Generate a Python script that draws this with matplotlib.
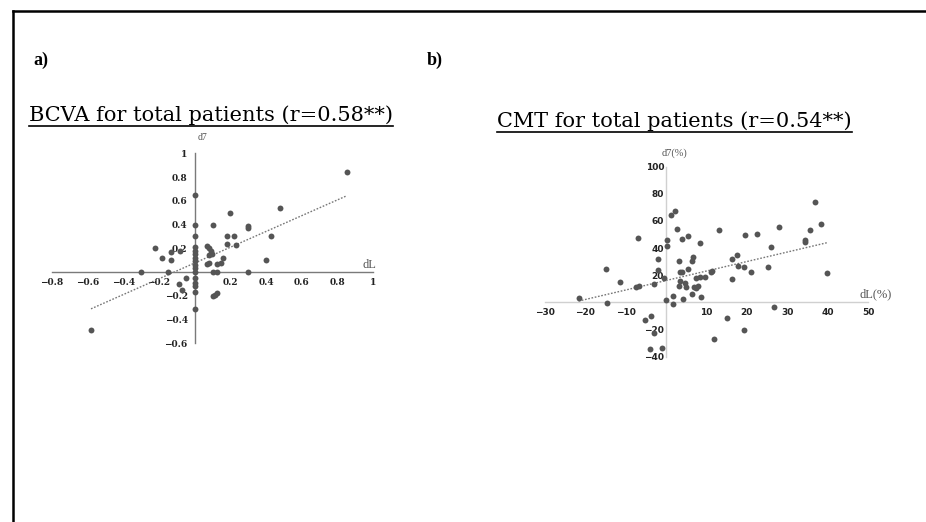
import numpy as np
import matplotlib
matplotlib.use("Agg")
import matplotlib.pyplot as plt
from matplotlib.lines import Line2D

# ---------------- data ----------------
bcva_dL = [0.85, -0.58, 0.0, 0.48, 0.20, 0.10, 0.0, 0.30, 0.30, 0.43, 0.18, 0.22, 0.0,
           0.18, 0.23, 0.16, 0.40, 0.15, 0.125, 0.07, 0.08, 0.07, 0.08, 0.09, 0.095, 0.08,
           0.0, 0.0, 0.0, 0.0, 0.0, 0.0, 0.0, -0.22, -0.18, -0.13, -0.13, -0.08,
           -0.30, -0.15, 0.0, 0.10, 0.125, 0.30, -0.05, -0.09, -0.07,
           0.0, 0.0, 0.0, 0.0, 0.0, 0.10, 0.115, 0.125]
bcva_d7 = [0.84, -0.49, 0.65, 0.54, 0.50, 0.40, 0.40, 0.39, 0.37, 0.30, 0.30, 0.30, 0.30,
           0.24, 0.23, 0.12, 0.10, 0.08, 0.07, 0.07, 0.08, 0.22, 0.20, 0.18, 0.15, 0.14,
           0.21, 0.18, 0.15, 0.12, 0.09, 0.06, 0.03, 0.20, 0.12, 0.10, 0.17, 0.18,
           0.0, 0.0, 0.0, 0.0, 0.0, 0.0, -0.05, -0.10, -0.15,
           -0.05, -0.09, -0.12, -0.17, -0.31, -0.20, -0.19, -0.18]

cmt_dL = [-21.7, -14.7, -14.9, -11.4, -7.0, -7.5, -6.7, -3.1, -2.1, -2.1, -5.2, -3.8, -3.1,
          -4.1, -1.0, 0.0, 1.6, 1.8, 0.2, 0.2, -0.5, 1.1, 2.1, 2.6, 3.9, 3.3, 3.5, 4.0,
          3.5, 3.3, 4.7, 4.9, 4.1, 5.4, 5.5, 6.3, 6.6, 6.4, 6.9, 7.4, 7.8, 7.4, 8.3,
          8.5, 8.6, 9.7, 11.2, 11.3, 11.9, 13.0, 15.1, 16.3, 16.2, 17.6, 17.7, 19.3,
          19.6, 19.4, 21.0, 22.5, 25.3, 25.9, 26.6, 27.9, 34.4, 34.5, 35.6, 36.9, 38.4, 39.9]
cmt_d7 = [3.4, -0.7, 24.3, 15.2, 47.7, 11.5, 12.0, 13.3, 31.7, 23.8, -13.0, -9.8, -22.4,
          -34.6, -33.7, 2.0, -1.2, 4.7, 46.0, 41.5, 18.2, 64.6, 67.3, 53.8, 46.9, 30.5, 22.4, 22.4,
          16.0, 12.0, 14.0, 11.5, 2.7, 24.8, 49.1, 30.7, 33.7, 6.1, 11.5, 10.3, 12.0, 18.2, 18.9,
          44.0, 3.7, 18.4, 22.6, 23.3, -27.3, 53.3, -11.3, 32.2, 17.0, 35.1, 27.0, 25.8,
          49.9, -20.1, 22.4, 50.4, 26.3, 41.0, -3.7, 55.3, 46.0, 44.2, 53.0, 74.0, 57.5, 21.9]

bcva_xticks = [-0.8, -0.6, -0.4, -0.2, 0.2, 0.4, 0.6, 0.8, 1]
bcva_xlabels = ["\u22120.8", "\u22120.6", "\u22120.4", "\u22120.2", "0.2", "0.4", "0.6", "0.8", "1"]
bcva_yticks = [-0.6, -0.4, -0.2, 0.2, 0.4, 0.6, 0.8, 1]
bcva_ylabels = ["\u22120.6", "\u22120.4", "\u22120.2", "0.2", "0.4", "0.6", "0.8", "1"]

cmt_xticks = [-30, -20, -10, 10, 20, 30, 40, 50]
cmt_xlabels = ["\u221230", "\u221220", "\u221210", "10", "20", "30", "40", "50"]
cmt_yticks = [-40, -20, 20, 40, 60, 80, 100]
cmt_ylabels = ["\u221240", "\u221220", "20", "40", "60", "80", "100"]

# ---------------- figure ----------------
W, H = 926, 522
fig = plt.figure(figsize=(W / 100, H / 100), dpi=100)
fig.patch.set_facecolor("white")

def frac(x0, x1, ytop, ybot):
    return [x0 / W, 1 - ybot / H, (x1 - x0) / W, (ybot - ytop) / H]

point_color = "#555555"

def setup(ax, xs, ys, xlim, ylim, xt, xl, yt, yl, axcol, lblfont, ypad, xpad):
    ax.set_xlim(*xlim)
    ax.set_ylim(*ylim)
    ax.patch.set_alpha(0)
    for s in ["top", "right"]:
        ax.spines[s].set_visible(False)
    for s in ["left", "bottom"]:
        ax.spines[s].set_position(("data", 0))
        ax.spines[s].set_color(axcol)
        ax.spines[s].set_linewidth(1.0)
    ax.set_xticks(xt)
    ax.set_xticklabels(xl)
    ax.set_yticks(yt)
    ax.set_yticklabels(yl)
    ax.tick_params(axis="both", length=0, labelsize=6.5, labelcolor="#222222")
    ax.tick_params(axis="y", pad=ypad)
    ax.tick_params(axis="x", pad=xpad)
    for t in ax.get_xticklabels() + ax.get_yticklabels():
        t.set_fontfamily(lblfont)
        t.set_fontweight("bold")
    ax.scatter(xs, ys, s=18, color=point_color, zorder=3, linewidths=0)
    k, b = np.polyfit(xs, ys, 1)
    xx = np.array([min(xs), max(xs)])
    ax.plot(xx, k * xx + b, linestyle=(0, (1.2, 1.2)), color="#777777", linewidth=1.0, zorder=2)

ax1 = fig.add_axes(frac(51.7, 373.3, 153.3, 343.3))
setup(ax1, bcva_dL, bcva_d7, (-0.8, 1.0), (-0.6, 1.0), bcva_xticks, bcva_xlabels,
      bcva_yticks, bcva_ylabels, "#7a7a7a", "DejaVu Serif", 5, 4)

ax2 = fig.add_axes(frac(545, 868, 166.7, 356.7))
setup(ax2, cmt_dL, cmt_d7, (-30, 50), (-40, 100), cmt_xticks, cmt_xlabels,
      cmt_yticks, cmt_ylabels, "#d0d0d0", "DejaVu Sans", 1.5, 4)

# axis titles
fig.text(202 / W, 1 - 137 / H, "d7", fontsize=7, family="Liberation Serif", color="#555555",
         ha="center", va="center")
fig.text(369 / W, 1 - 265 / H, "dL", fontsize=9, family="Liberation Serif", color="#555555",
         ha="center", va="center")
fig.text(675 / W, 1 - 153 / H, "d7(%)", fontsize=7.5, family="Liberation Serif", color="#555555",
         ha="center", va="center")
fig.text(876 / W, 1 - 294 / H, "dL(%)", fontsize=9, family="Liberation Serif", color="#555555",
         ha="center", va="center")

# panel letters
fig.text(33 / W, 1 - 60 / H, "a)", fontsize=13, family="Liberation Serif", fontweight="bold",
         ha="left", va="center")
fig.text(427 / W, 1 - 60 / H, "b)", fontsize=13, family="Liberation Serif", fontweight="bold",
         ha="left", va="center")

# titles with underline
t1 = fig.text(29 / W, 1 - 121 / H, "BCVA for total patients (r=0.58**)", fontsize=15,
              family="DejaVu Serif", ha="left", va="baseline")
t2 = fig.text(497 / W, 1 - 127 / H, "CMT for total patients (r=0.54**)", fontsize=15,
              family="DejaVu Serif", ha="left", va="baseline")
fig.canvas.draw()
r = fig.canvas.get_renderer()
for t, uy in ((t1, 125.5), (t2, 131.5)):
    bb = t.get_window_extent(r)
    fig.add_artist(Line2D([bb.x0 / W, bb.x1 / W], [1 - uy / H, 1 - uy / H],
                          color="black", linewidth=1.2))

# outer frame (left and top)
fig.add_artist(Line2D([12.5 / W, 12.5 / W], [0, 1 - 10.5 / H], color="black", linewidth=1.8))
fig.add_artist(Line2D([12.5 / W, 1], [1 - 10.5 / H, 1 - 10.5 / H], color="black", linewidth=1.8))

fig.savefig("out.png", dpi=100, facecolor="white")
